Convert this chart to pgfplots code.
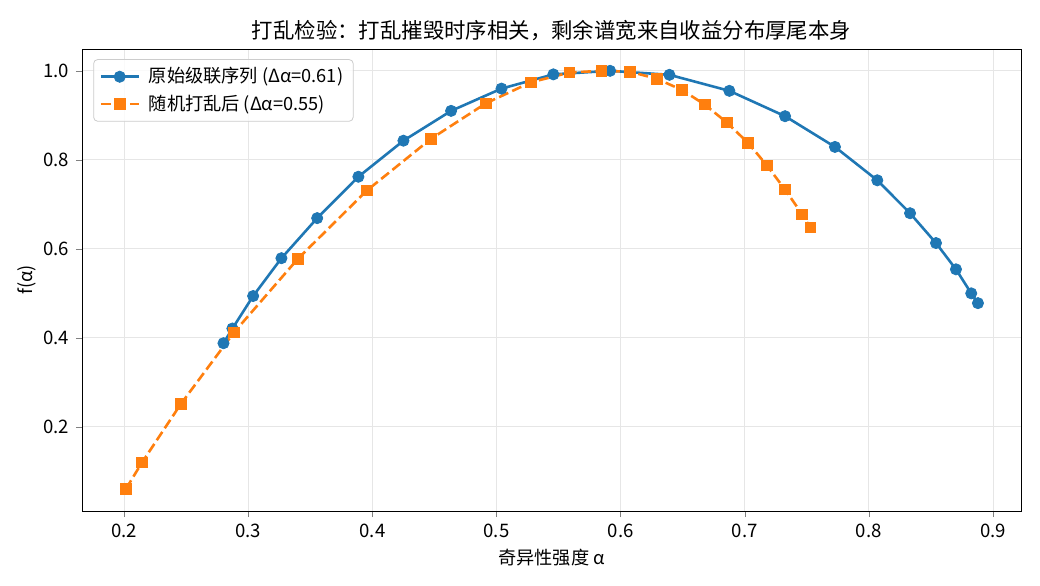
\documentclass[border=0pt]{standalone}
\usepackage{fontspec}
\setmainfont{Noto Sans CJK SC}
\usepackage{pgfplots}
\pgfplotsset{compat=1.18}
\definecolor{cA}{HTML}{1F77B4}
\definecolor{cB}{HTML}{FF7F0E}
\definecolor{gridc}{HTML}{E6E6E6}
\begin{document}
\begin{tikzpicture}
\useasboundingbox (0,0) rectangle (520pt,292.5pt);
\begin{axis}[
  at={(41pt,37pt)}, anchor=south west,
  scale only axis, width=469.5pt, height=231pt,
  xmin=0.166, xmax=0.9226, ymin=0.011, ymax=1.049,
  xtick={0.2,0.3,0.4,0.5,0.6,0.7,0.8,0.9},
  ytick={0.2,0.4,0.6,0.8,1.0},
  xticklabel style={/pgf/number format/fixed,/pgf/number format/fixed zerofill,/pgf/number format/precision=1},
  yticklabel style={/pgf/number format/fixed,/pgf/number format/fixed zerofill,/pgf/number format/precision=1},
  /pgf/number format/assume math mode=true,
  tick label style={font=\fontsize{9.3}{11}\selectfont},
  label style={font=\fontsize{9.1}{11}\selectfont},
  tick align=outside, xtick pos=left, ytick pos=left,
  major tick length=3pt,
  axis line style={line width=0.45pt},
  grid=major, grid style={gridc, line width=0.45pt},
  every axis title shift=0pt,
  title={打乱检验：打乱摧毁时序相关，剩余谱宽来自收益分布厚尾本身},
  title style={font=\fontsize{10.7}{12}\selectfont, at={(axis description cs:0.5,1.039)}, anchor=center},
  xlabel={奇异性强度 α},
  xlabel style={at={(axis description cs:0.5,-0.1017)}, anchor=center},
  ylabel={f(α)},
  ylabel style={at={(axis description cs:-0.0586,0.5)}, anchor=center},
  legend style={at={(0.012,0.978)}, anchor=north west, draw=black!20, rounded corners=2pt,
    fill=white, fill opacity=0.8, draw opacity=1, text opacity=1, font=\fontsize{9.1}{11}\selectfont,
    row sep=0.5pt},
  legend cell align=left,
  legend image code/.code={\draw[opacity=1, fill opacity=1, mark repeat=2,mark phase=2] plot coordinates {(0cm,0cm) (0.33cm,0cm) (0.66cm,0cm)};},
]
\addplot[cA, line width=1.3pt, mark=*, mark size=2.8pt, mark options={solid, line width=0.4pt}] coordinates {
(0.280,0.388) (0.2872,0.421) (0.3039,0.494) (0.3267,0.579) (0.3555,0.669)
(0.3887,0.762) (0.425,0.843) (0.4634,0.910) (0.504,0.960) (0.5458,0.992)
(0.5915,1.000) (0.6393,0.991) (0.6876,0.955) (0.7325,0.898) (0.7727,0.829)
(0.8068,0.754) (0.8332,0.680) (0.8541,0.613) (0.8702,0.554) (0.8825,0.500)
(0.8879,0.478)
};
\addlegendentry{\hspace{2.5pt}原始级联序列 (Δα=0.61)}
\addplot[cB, line width=1.3pt, dash pattern=on 5pt off 2.2pt, mark=square*, mark size=2.6pt, mark options={solid, line width=0.4pt}] coordinates {
(0.2014,0.0607) (0.2143,0.1198) (0.2457,0.2517) (0.2884,0.412) (0.3399,0.5775)
(0.3955,0.731) (0.4471,0.847) (0.4914,0.927) (0.5276,0.974) (0.5585,0.996)
(0.5843,1.000) (0.6076,0.998) (0.6291,0.982) (0.6495,0.957) (0.6678,0.924)
(0.6855,0.884) (0.7027,0.838) (0.718,0.787) (0.7325,0.733) (0.7462,0.678)
(0.7527,0.648)
};
\addlegendentry{\hspace{2.5pt}随机打乱后 (Δα=0.55)}
\end{axis}
\end{tikzpicture}
\end{document}
